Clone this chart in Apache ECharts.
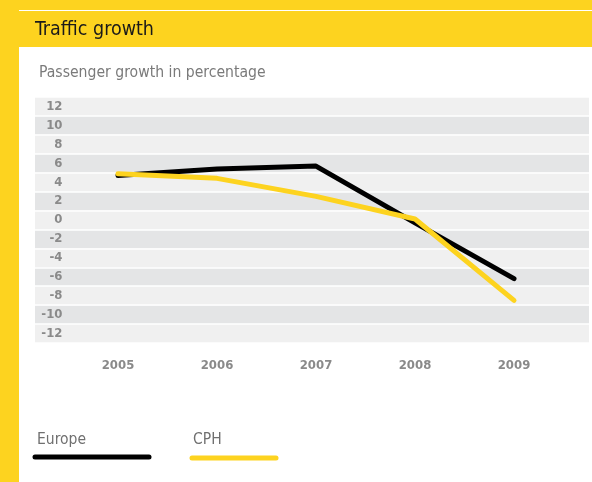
<!DOCTYPE html>
<html>
<head>
<meta charset="utf-8">
<script src="https://cdn.jsdelivr.net/npm/echarts@6/dist/echarts.min.js"></script>
<style>
html,body{margin:0;padding:0;background:#fdd31f;}
#chart{width:592px;height:482px;}
</style>
</head>
<body>
<div id="chart"></div>
<script>
var years = ['2005', '2006', '2007', '2008', '2009'];
var europe = [4.7, 5.4, 5.7, -0.3, -6.2];
var cph = [4.9, 4.4, 2.5, 0.1, -8.5];
var seriesNames = ['Europe', 'CPH'];
var titleText = 'Traffic growth';
var subtitleText = 'Passenger growth in percentage';

var YELLOW = '#fdd31f';
var FONT = '"Liberation Sans Narrow", "DejaVu Sans Condensed", "Noto Sans", sans-serif';

var bandTop = 97, bandH = 246;
var unit = bandH / 26;

var chart = echarts.init(document.getElementById('chart'));
chart.setOption({
  backgroundColor: YELLOW,
  animation: false,
  graphic: [
    { type: 'rect', z: -10, shape: { x: 19, y: 10, width: 573, height: 472 }, style: { fill: '#ffffff' } },
    { type: 'rect', z: -9, shape: { x: 19, y: 11, width: 573, height: 36 }, style: { fill: YELLOW } },
    { type: 'text', left: 35, top: 20, style: { text: titleText, font: '19.5px ' + FONT, fill: '#1a1a1a' } },
    { type: 'text', left: 39, top: 65, style: { text: subtitleText, font: '15.6px ' + FONT, fill: '#7a7a7a' } },
    { type: 'text', left: 37, top: 432, style: { text: seriesNames[0], font: '15.5px ' + FONT, fill: '#707070' } },
    { type: 'line', shape: { x1: 35, y1: 457, x2: 149, y2: 457 }, style: { stroke: '#000000', lineWidth: 5, lineCap: 'round' } },
    { type: 'text', left: 193, top: 432, style: { text: seriesNames[1], font: '15.5px ' + FONT, fill: '#707070' } },
    { type: 'line', shape: { x1: 192, y1: 458, x2: 276, y2: 458 }, style: { stroke: YELLOW, lineWidth: 5, lineCap: 'round' } }
  ],
  grid: [
    { left: 35, width: 554, top: bandTop, height: bandH },
    { left: 68.5, width: 495, top: bandTop + unit, height: bandH - 2 * unit }
  ],
  xAxis: [
    { gridIndex: 0, type: 'category', data: years, show: false },
    { gridIndex: 1, type: 'category', data: years, boundaryGap: true,
      axisLine: { show: false }, axisTick: { show: false }, splitLine: { show: false },
      axisLabel: { color: '#8a8a8a', fontWeight: 'bold', fontSize: 13, fontFamily: FONT, margin: 26 } }
  ],
  yAxis: [
    { gridIndex: 0, type: 'value', min: -13, max: 13, interval: 2,
      axisLine: { show: false }, axisTick: { show: false }, axisLabel: { show: false },
      splitLine: { show: true, lineStyle: { color: '#ffffff', width: 1.5 } },
      splitArea: { show: true, areaStyle: { color: ['#f0f0f0', '#e4e5e6'] } } },
    { gridIndex: 1, type: 'value', min: -12, max: 12, interval: 2,
      axisLine: { show: false }, axisTick: { show: false }, splitLine: { show: false },
      axisLabel: { color: '#8a8a8a', fontWeight: 'bold', fontSize: 13, fontFamily: FONT, margin: 6 } }
  ],
  series: [
    { name: seriesNames[0], type: 'line', xAxisIndex: 1, yAxisIndex: 1, data: europe,
      symbol: 'none', z: 3, lineStyle: { color: '#000000', width: 5, cap: 'round' } },
    { name: seriesNames[1], type: 'line', xAxisIndex: 1, yAxisIndex: 1, data: cph,
      symbol: 'none', z: 4, lineStyle: { color: YELLOW, width: 5, cap: 'round' } }
  ]
});
</script>
</body>
</html>
